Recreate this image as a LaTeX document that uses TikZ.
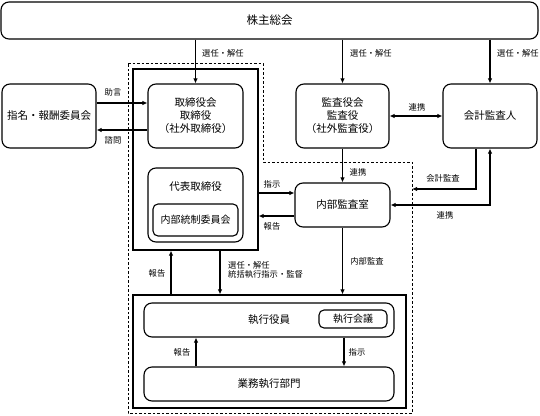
\documentclass[tikz,border=0pt]{standalone}
\usepackage{fontspec}
\setmainfont{Noto Sans CJK JP}
\usetikzlibrary{arrows.meta}

\begin{document}
\begin{tikzpicture}[x=1pt, y=-1pt,
	box/.style={shape=rectangle, draw, line width=1.1pt, rounded corners=8pt, font=\fontsize{10.5}{13}\selectfont, align=center},
	smallbox/.style={shape=rectangle, draw, line width=1.1pt, rounded corners=5pt, font=\fontsize{10}{12}\selectfont},
	frame/.style={shape=rectangle, draw, line width=1.2pt},
	lbl/.style={font=\fontsize{8.3}{10}\selectfont, inner sep=1pt},
	wire/.style={line width=1.1pt, -{Latex[length=5pt, width=4.5pt]}},
	wire2/.style={line width=1.1pt, {Latex[length=5pt, width=4.5pt]}-{Latex[length=5pt, width=4.5pt]}}]

	\useasboundingbox (0, 0) rectangle (540, 415);

	% Frames:
	\draw[line width=0.9pt, dash pattern={on 2.5pt off 2pt}] (128, 63) -- (263, 63) -- (263, 162) -- (412, 162) -- (412, 413) -- (128, 413) -- cycle;
	\node[frame, minimum width=125, minimum height=181](boardframe) at (195.5, 159.5){};
	\node[frame, minimum width=273, minimum height=113](execframe) at (269.5, 351.5){};

	% Nodes:
	\node[box, minimum width=537, minimum height=37, font=\fontsize{11.5}{13}\selectfont](gms) at (269.5, 20.5){株主総会};
	\node[box, minimum width=94, minimum height=64](nomination) at (49, 116){指名・報酬委員会};
	\node[box, minimum width=95, minimum height=64](board) at (195.5, 116){取締役会\\取締役\\（社外取締役）};
	\node[box, minimum width=93, minimum height=64](kansayaku) at (342.5, 116){監査役会\\監査役\\（社外監査役）};
	\node[box, minimum width=94, minimum height=64](accountant) at (490, 116){会計監査人};
	\node[box, minimum width=95, minimum height=74](rep) at (195.5, 205){};
	\node[anchor=center, font=\fontsize{10.5}{13}\selectfont](reptext) at (195.5, 187){代表取締役};
	\node[smallbox, minimum width=85, minimum height=32](control) at (195.5, 220){内部統制委員会};
	\node[box, minimum width=95, minimum height=44](audit) at (342.5, 205){内部監査室};
	\node[box, minimum width=250, minimum height=34](officers) at (269, 320){執行役員};
	\node[smallbox, minimum width=68, minimum height=18](meeting) at (353, 319){執行会議};
	\node[box, minimum width=250, minimum height=34](business) at (269, 384){業務執行部門};
	\coordinate (auditend) at (412, 189);

	% Wires:
	\draw[wire] (board.north |- gms.south) -- (board.north);
	\draw[wire] (kansayaku.north |- gms.south) -- (kansayaku.north);
	\draw[wire] (accountant.north |- gms.south) -- (accountant.north);
	\draw[wire] ([yshift=13pt]nomination.east) -- ([yshift=13pt]board.west);
	\draw[wire] ([yshift=-14pt]board.west) -- ([yshift=-14pt]nomination.east);
	\draw[wire2] (kansayaku.east) -- (accountant.west);
	\draw[wire] (kansayaku.south) -- (audit.north);
	\draw[wire] ([yshift=12pt]audit.west -| boardframe.east) -- ([yshift=12pt]audit.west);
	\draw[wire] ([yshift=-11pt]audit.west) -- ([yshift=-11pt]audit.west -| boardframe.east);
	\draw[wire] ([xshift=-14pt]accountant.south) |- (auditend);
	\draw[wire2] (audit.east) -| (accountant.south);
	\draw[wire] ([xshift=-24.5pt]boardframe.south |- execframe.north) -- ([xshift=-24.5pt]boardframe.south);
	\draw[wire] ([xshift=24.5pt]boardframe.south) -- ([xshift=24.5pt]boardframe.south |- execframe.north);
	\draw[wire] (audit.south) -- (audit.south |- execframe.north);
	\draw[wire] ([xshift=-73pt]business.north) -- ([xshift=-73pt]business.north |- officers.south);
	\draw[wire] ([xshift=75pt]officers.south) -- ([xshift=75pt]officers.south |- business.north);

	% Labels:
	\node[lbl, anchor=west](l1) at (201, 53){選任・解任};
	\node[lbl, anchor=west](l2) at (349, 53){選任・解任};
	\node[lbl, anchor=west](l3) at (496, 53){選任・解任};
	\node[lbl](l4) at (113, 92){助言};
	\node[lbl](l5) at (113, 140){諮問};
	\node[lbl](l6) at (417, 107){連携};
	\node[lbl](l7) at (358, 172){連携};
	\node[lbl](l8) at (272, 184){指示};
	\node[lbl](l9) at (272, 226){報告};
	\node[lbl](l10) at (443, 178){会計監査};
	\node[lbl](l11) at (445, 215){連携};
	\node[lbl](l12) at (367, 261){内部監査};
	\node[lbl](l13) at (157, 273){報告};
	\node[lbl, anchor=west, align=left, font=\fontsize{8.3}{9.5}\selectfont](l14) at (227, 270){選任・解任\\統括執行指示・監督};
	\node[lbl](l15) at (182, 352){報告};
	\node[lbl](l16) at (357, 352){指示};

\end{tikzpicture}
\end{document}
